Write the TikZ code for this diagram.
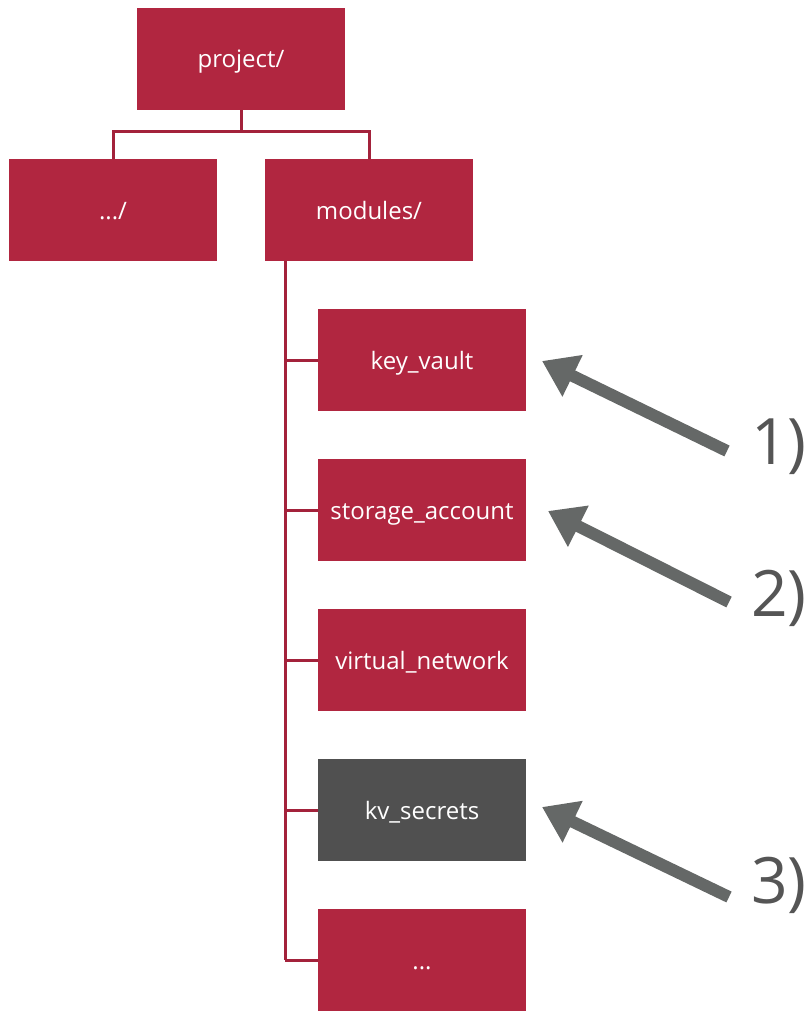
\documentclass[tikz,border=0pt]{standalone}
\usepackage{fontspec}
\setmainfont{Open Sans}
\usetikzlibrary{arrows.meta}
\definecolor{boxred}{HTML}{B12640}
\definecolor{linered}{HTML}{A3223B}
\definecolor{boxgray}{HTML}{505050}
\definecolor{arrgray}{HTML}{656867}
\definecolor{labgray}{HTML}{555555}
\begin{document}
\begin{tikzpicture}[x=1pt,y=-1pt,
  box/.style={fill=boxred,draw=none,minimum width=208pt,minimum height=102pt,inner sep=0pt,text=white,font=\fontsize{24}{28}\selectfont,text height=20pt,text depth=2pt},
  darkbox/.style={box,fill=boxgray},
  conn/.style={draw=linered,line width=3pt},
  callout/.style={draw=arrgray,line width=12pt,-{Triangle[length=34pt,width=44pt]}},
  lab/.style={text=labgray,font=\fontsize{64}{70}\selectfont,inner sep=0pt}]
\useasboundingbox (0,0) rectangle (808,1011);
\node[box] (project) at (241,59) {project/};
\node[box] (dots) at (113,210) {.../};
\node[box] (modules) at (369,210) {modules/};
\node[box] (kv) at (422,360) {key\_vault};
\node[box] (sa) at (422,510) {storage\_account};
\node[box] (vn) at (422,660) {virtual\_network};
\node[darkbox] (kvs) at (422,810) {kv\_secrets};
\node[box] (more) at (422,960) {...};
\coordinate (bar) at (241,132);
\draw[conn] (project.south) -- (bar);
\draw[conn] (dots.north) -- ++(0,-27) -| (modules.north);
\coordinate (trunk) at (285,261);
\draw[conn] (trunk) -- (285,960);
\foreach \n in {kv,sa,vn,kvs,more}{
  \draw[conn] (\n.west -| trunk) -- (\n.west);
}
\node[lab] (l1) at (779,447) {1)};
\node[lab] (l2) at (779,598) {2)};
\node[lab] (l3) at (779,885) {3)};
\coordinate (t1) at (727,451);
\coordinate (t2) at (729,602);
\coordinate (t3) at (729,897);
\draw[callout] (t1) -- (542,361);
\draw[callout] (t2) -- (548,511);
\draw[callout] (t3) -- (542,807);
\end{tikzpicture}
\end{document}
